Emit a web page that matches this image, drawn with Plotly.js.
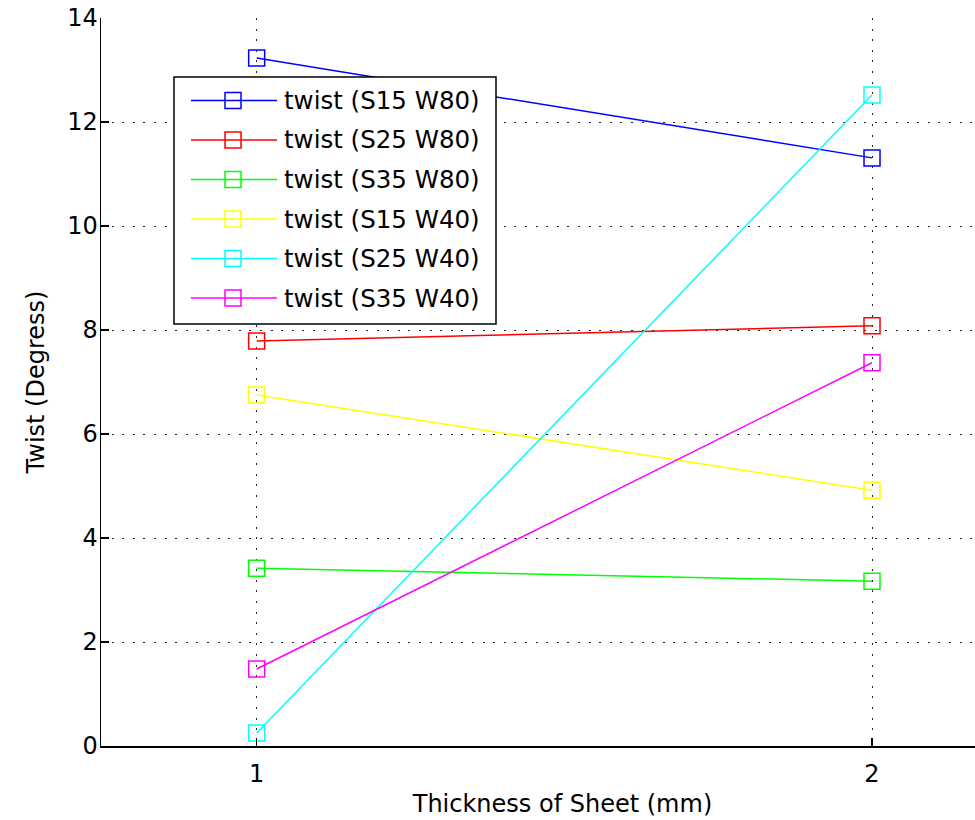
<!DOCTYPE html>
<html>
<head>
<meta charset="utf-8">
<script src="https://cdn.plot.ly/plotly-3.0.1.min.js"></script>
<style>
  html, body { margin: 0; padding: 0; background: #fff; overflow: hidden; width: 975px; height: 820px; }
  #chart { position: absolute; left: 0; top: 0; }
</style>
</head>
<body>
<div id="chart"></div>
<script>
// Sheet thickness (mm) on the x axis
const thickness = [1, 2];

// Measured twist (degrees) for each speed / weld setting
const twistS15W80 = [13.23, 11.31];
const twistS25W80 = [7.79, 8.08];
const twistS35W80 = [3.42, 3.17];
const twistS15W40 = [6.75, 4.92];
const twistS25W40 = [0.25, 12.52];
const twistS35W40 = [1.48, 7.37];

const seriesNames = [
  'twist (S15 W80)', 'twist (S25 W80)', 'twist (S35 W80)',
  'twist (S15 W40)', 'twist (S25 W40)', 'twist (S35 W40)'
];
const seriesValues = [twistS15W80, twistS25W80, twistS35W80, twistS15W40, twistS25W40, twistS35W40];
const seriesColors = ['#0000ff', '#ff0000', '#00ff00', '#ffff00', '#00ffff', '#ff00ff'];

const yTicks = [0, 2, 4, 6, 8, 10, 12, 14];
const xTicks = [1, 2];

const FONT = 'DejaVu Sans, sans-serif';

// plot-area geometry (pixels)
const M = { l: 101, r: 50, t: 18, b: 74 };
const W = 1074, H = 820;
const PW = W - M.l - M.r, PH = H - M.t - M.b;
const px = p => (p - M.l) / PW;          // page x -> paper x
const py = p => (H - M.b - p) / PH;      // page y -> paper y

const traces = seriesValues.map((vals, i) => ({
  type: 'scatter',
  mode: 'lines+markers',
  x: thickness,
  y: vals,
  name: seriesNames[i],
  line: { color: seriesColors[i], width: 1.5 },
  marker: { symbol: 'square-open', size: 16, color: seriesColors[i], line: { width: 1.5, color: seriesColors[i] } },
  showlegend: false,
  hoverinfo: 'x+y+name'
}));

// legend box drawn inside the plot area
const shapes = [{
  type: 'rect', xref: 'paper', yref: 'paper', layer: 'above',
  x0: px(174), x1: px(496), y0: py(324), y1: py(77),
  line: { color: '#000', width: 1.5 }, fillcolor: '#fff'
}];
const annotations = [];
seriesNames.forEach((name, i) => {
  const cy = py(100.5 + i * 39.5);
  shapes.push({
    type: 'line', xref: 'paper', yref: 'paper', layer: 'above',
    x0: px(191), x1: px(277), y0: cy, y1: cy,
    line: { color: seriesColors[i], width: 1.5 }
  });
  shapes.push({
    type: 'rect', xref: 'paper', yref: 'paper', layer: 'above',
    xsizemode: 'pixel', ysizemode: 'pixel',
    xanchor: px(233), yanchor: cy,
    x0: -8, x1: 8, y0: -8, y1: 8,
    line: { color: seriesColors[i], width: 1.5 }, fillcolor: 'rgba(0,0,0,0)'
  });
  annotations.push({
    xref: 'paper', yref: 'paper', x: px(282), y: cy,
    xanchor: 'left', yanchor: 'middle', showarrow: false,
    text: name, font: { family: FONT, size: 24.5, color: '#000' }
  });
});

const axisCommon = {
  showline: true, linecolor: '#000', linewidth: 1.5,
  ticks: 'inside', ticklen: 8, tickwidth: 1.5, tickcolor: '#000',
  showgrid: true, gridcolor: '#222', gridwidth: 1, griddash: '2px,8.6px',
  zeroline: false, mirror: false,
  tickfont: { family: FONT, size: 24, color: '#000' }
};

const layout = {
  width: W, height: H,
  margin: M,
  paper_bgcolor: '#fff', plot_bgcolor: '#fff',
  showlegend: false,
  xaxis: Object.assign({}, axisCommon, {
    range: [0.747, 2.247], tickvals: xTicks, ticktext: xTicks.map(String),
    ticklabelstandoff: 6,
    title: { text: 'Thickness of Sheet (mm)', font: { family: FONT, size: 24, color: '#000' }, standoff: 8 }
  }),
  yaxis: Object.assign({}, axisCommon, {
    range: [0, 14], tickvals: yTicks, ticktext: yTicks.map(String),
    ticklabelstandoff: -3,
    title: { text: 'Twist (Degress)', font: { family: FONT, size: 24, color: '#000' }, standoff: 16 }
  }),
  shapes: shapes,
  annotations: annotations
};

Plotly.newPlot('chart', traces, layout, { displayModeBar: false, staticPlot: true });
</script>
</body>
</html>
